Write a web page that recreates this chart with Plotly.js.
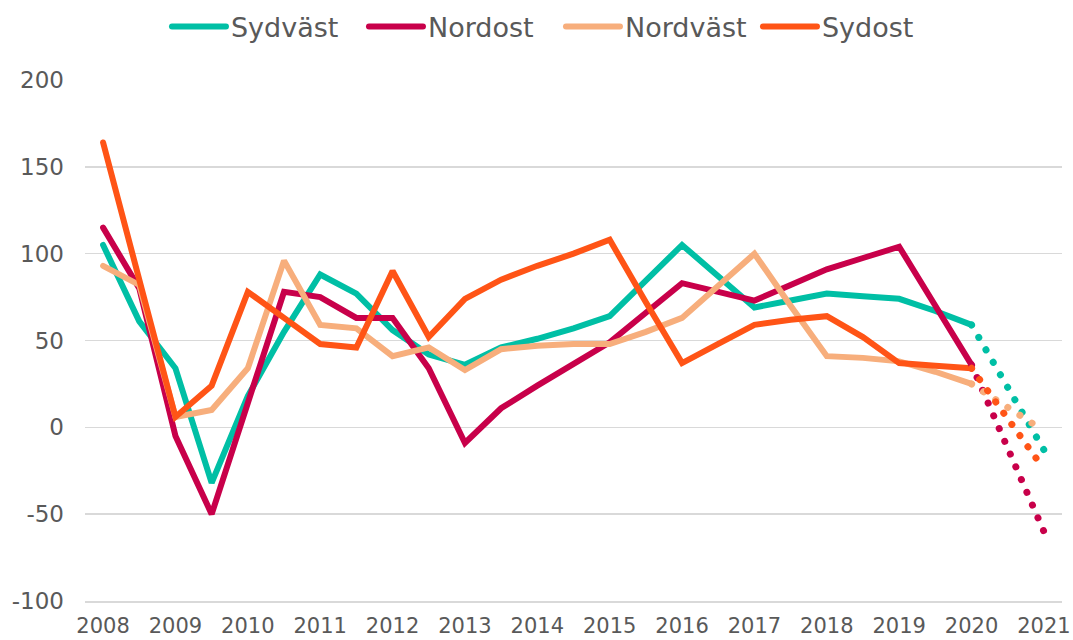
<!DOCTYPE html>
<html>
<head>
<meta charset="utf-8">
<script src="https://cdn.plot.ly/plotly-3.0.1.min.js"></script>
<style>
  html, body { margin: 0; padding: 0; background: #ffffff; }
  #chart { width: 1073px; height: 640px; }
  path.js-line { stroke-linecap: round; }
</style>
</head>
<body>
<div id="chart"></div>
<script>
// Half-year periods 2008 .. 2020
const periods = [2008, 2008.5, 2009, 2009.5, 2010, 2010.5, 2011, 2011.5, 2012, 2012.5,
  2013, 2013.5, 2014, 2014.5, 2015, 2015.5, 2016, 2016.5, 2017, 2017.5,
  2018, 2018.5, 2019, 2019.5, 2020];

const sydvast  = [105, 61, 34, -32, 18, 55, 88, 77, 56, 42, 36, 46, 51, 57, 64, 85, 105, 87, 69, 73, 77, 75.5, 74, 67, 59];
const nordost  = [115, 80, -5, -50, 14, 78, 75, 63, 63, 34, -9, 11, 24, 36, 49, 66, 83, 78, 73, 82, 91, 97.5, 104, 70, 36];
const nordvast = [93, 82, 6, 10, 34, 96, 59, 57, 41, 46, 33, 45, 47, 48, 48, 55, 63, 81, 100, 70, 41, 40, 38, 32, 25];
const sydost   = [164, 85, 6, 24, 78, 63, 48, 46, 90, 52, 74, 85, 93, 100, 108, 72, 37, 48, 59, 62, 64, 52, 37, 35.5, 34];

// Forecast (dotted) 2020 -> 2021
const forecastPeriods = [2020, 2021];
const sydvastF  = [59, -13];
const nordostF  = [36, -60];
const nordvastF = [25, -2];
const sydostF   = [34, -24];

const tickYears  = [2008, 2009, 2010, 2011, 2012, 2013, 2014, 2015, 2016, 2017, 2018, 2019, 2020, 2021];
const tickLabels = ['2008', '2009', '2010', '2011', '2012', '2013', '2014', '2015', '2016', '2017', '2018', '2019', '2020', '2021'];
const yTickVals   = [-100, -50, 0, 50, 100, 150, 200];
const yTickLabels = ['-100', '-50', '0', '50', '100', '150', '200'];

const names  = ['Sydväst', 'Nordost', 'Nordväst', 'Sydost'];
const colors = ['#00BFA5', '#C8004A', '#F7AE7C', '#FF5416'];
const dashes = ['0.1px,14.3px', '0.1px,13.8px', '0.1px,14.3px', '0.1px,13.7px'];
const solid  = [sydvast, nordost, nordvast, sydost];
const fcast  = [sydvastF, nordostF, nordvastF, sydostF];

const traces = [];
for (let i = 0; i < names.length; i++) {
  traces.push({
    x: periods, y: solid[i], name: names[i], type: 'scatter', mode: 'lines',
    line: { color: colors[i], width: 6 }, showlegend: true
  });
}
for (let i = 0; i < names.length; i++) {
  traces.push({
    x: forecastPeriods, y: fcast[i], name: names[i] + ' prognos', type: 'scatter', mode: 'lines',
    line: { color: colors[i], width: 7, dash: dashes[i] }, showlegend: false
  });
}

const layout = {
  width: 1073, height: 640,
  paper_bgcolor: '#ffffff', plot_bgcolor: '#ffffff',
  margin: { l: 85, r: 11, t: 80, b: 39, autoexpand: false },
  font: { family: 'DejaVu Sans, sans-serif', color: '#595959', size: 22 },
  showlegend: true,
  legend: {
    orientation: 'h', x: 0.0839, xanchor: 'left', y: 1.102, yanchor: 'middle',
    font: { size: 27, color: '#595959', family: 'DejaVu Sans, sans-serif' },
    itemwidth: 54, traceorder: 'normal', tracegroupgap: 0,
    entrywidth: 128, entrywidthmode: 'pixels'
  },
  xaxis: {
    range: [2007.75, 2021.25], tickmode: 'array', tickvals: tickYears, ticktext: tickLabels,
    showgrid: false, zeroline: false, showline: true, linecolor: '#d9d9d9', linewidth: 1.5,
    ticks: '', ticklabelstandoff: 5, tickfont: { size: 21, color: '#595959' }, fixedrange: true
  },
  yaxis: {
    range: [-100, 200], tickmode: 'array', tickvals: yTickVals, ticktext: yTickLabels,
    showgrid: true, gridcolor: '#d9d9d9', gridwidth: 1.5, zeroline: false, showline: false,
    ticks: '', ticklabelstandoff: 20, tickfont: { size: 23, color: '#595959' }, fixedrange: true
  }
};

Plotly.newPlot('chart', traces, layout, { staticPlot: true, displayModeBar: false });
</script>
</body>
</html>
